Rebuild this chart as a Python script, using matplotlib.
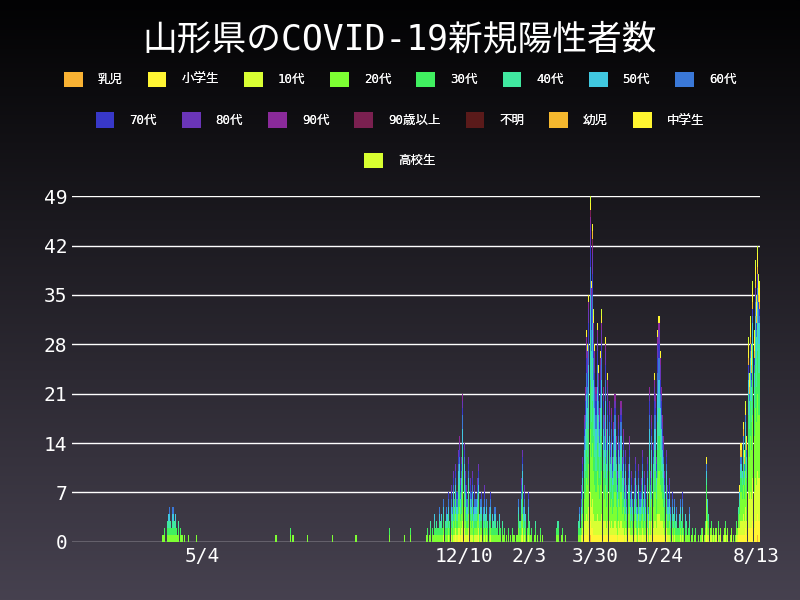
import numpy as np
import matplotlib
matplotlib.use("Agg")
import matplotlib.pyplot as plt
import matplotlib.dates as mdates
from matplotlib.patches import Patch
from matplotlib.colors import LinearSegmentedColormap
import datetime as dt

plt.rcParams['font.family'] = ['DejaVu Sans Mono', 'Noto Sans CJK JP']

categories = ['乳児','小学生','10代','20代','30代','40代','50代','60代','70代','80代','90代','90歳以上','不明','幼児','中学生','高校生']
colors = ['#f9b233','#fff533','#d9ff33','#7dff33','#40f060','#40e8a0','#40c8e0','#3a78d8',
          '#3838c8','#6a35b8','#8a2a9a','#7a2050','#5a1a1a','#f5b82e','#fff530','#d8ff30']

# (start date, daily totals)
seg_starts = ['2020-03-31','2020-07-04','2020-07-17','2020-07-31','2020-08-21','2020-09-10','2020-10-08',
              '2020-11-08','2021-01-24','2021-02-27','2021-03-16','2021-06-29','2021-07-26']
seg_totals = [
 [1,1,2,0,3,4,5,3,2,5,3,4,2,1,3,2,1,1,0,1,0,0,1,0,0,0,0,0,0,1,0],
 [1,1],
 [2,0,1],
 [1],
 [1],
 [1],
 [2,0,0,0,0,0,0,0,0,0,0,0,0,1,0,0,0,0,2],
 [1,2,0,1,3,2,1,4,2,3,2,5,3,4,2,6,3,5,4,7,3,8,5,10,6,11,7,13,15,9,12,21,14,10,8,6,12,9,7,10,
  5,8,6,9,11,4,6,7,5,8,4,6,3,5,7,2,4,3,5,2,3,1,4,2,3,1,2,0,1,2,0,1,0,2,1,0,1,0,1],
 [1,6,3,9,13,5,8,4,2,7,3,1,2,0,1,3,0,1,0,2,0,1,0,0,0,0,0,0,0,0,0,0,0,2],
 [3,0,0,1,2,0,1,0,0,0,0,0,0,0,0,0,0],
 [3,5,2,8,12,18,22,30,28,35,49,37,45,33,28,22,31,25,19,27,33,22,18,29,16,24,20,14,19,12,17,21,15,10,18,14,
  20,12,16,9,13,8,11,15,7,10,6,9,12,8,5,11,7,9,13,6,10,8,12,5,22,10,18,14,24,21,12,30,32,27,22,18,15,10,
  13,8,6,9,5,7,4,6,3,5,2,4,6,3,7,2,4,3,1,2,5,1,2,0,1,2,0,1,0,1,2],
 [2,1,3,12,6,4,2,3,1,2,1,2,0,3,1,2,0,1,2,3,1,2,0,1,2,0,1,0],
 [1,3,2,5,8,14,10,17,13,20,15,29,24,32,28,37,30,40,35,42,38,37],
]
mix_default = [0.01,0.04,0.08,0.18,0.14,0.13,0.12,0.09,0.07,0.06,0.03,0.01,0.0,0.01,0.02,0.01]
mix_wave5 = [0.01,0.08,0.15,0.25,0.15,0.10,0.08,0.04,0.02,0.01,0,0,0,0.03,0.05,0.03]

dates, totals, mixes = [], [], []
for s, vals in zip(seg_starts, seg_totals):
    d0 = dt.date.fromisoformat(s)
    for i, v in enumerate(vals):
        dates.append(d0 + dt.timedelta(days=i))
        totals.append(v)
        mixes.append(mix_wave5 if d0 >= dt.date(2021, 6, 29) else mix_default)

def split(total, mix):
    w = np.array(mix) / sum(mix) * total
    base = np.floor(w).astype(int)
    rem = total - base.sum()
    order = np.argsort(-(w - base))
    base[order[:rem]] += 1
    return base

stack = np.array([split(t, m) for t, m in zip(totals, mixes)]).T
xd = mdates.date2num(dates)

fig = plt.figure(figsize=(8, 6), dpi=100)
bg = fig.add_axes([0, 0, 1, 1], zorder=-10)
grad = np.linspace(0, 1, 256).reshape(-1, 1)
cmap = LinearSegmentedColormap.from_list('bg', ['#020203', '#46414f'])
bg.imshow(grad, aspect='auto', cmap=cmap, extent=[0, 1, 0, 1], origin='upper')
bg.axis('off')

ax = fig.add_axes([0.09, 0.097, 0.86, 0.576])
ax.set_facecolor('none')
bottom = np.zeros(len(xd))
for k in range(len(categories)):
    ax.bar(xd, stack[k], bottom=bottom, width=0.9, color=colors[k], linewidth=0)
    bottom += stack[k]

ax.set_ylim(0, 49)
ax.set_yticks(range(0, 50, 7))
ax.set_xlim(mdates.date2num(dt.date(2020, 1, 15)), mdates.date2num(dt.date(2021, 8, 16)))
tick_dates = [dt.date(2020,5,4), dt.date(2020,12,10), dt.date(2021,2,3), dt.date(2021,3,30), dt.date(2021,5,24), dt.date(2021,8,13)]
tick_labels = ['5/4','12/10','2/3','3/30','5/24','8/13']
ax.set_xticks(mdates.date2num(tick_dates))
ax.set_xticklabels(tick_labels)
ax.grid(axis='y', color='white', linewidth=1)
ax.set_axisbelow(True)
for sp in ax.spines.values():
    sp.set_visible(False)
ax.tick_params(colors='white', labelsize=14, length=0)

fig.text(0.5, 0.935, '山形県のCOVID-19新規陽性者数', color='white', fontsize=25, ha='center', va='center')

rows = [range(0, 8), range(8, 15), range(15, 16)]
row_y = [0.868, 0.800, 0.733]
for r, y in zip(rows, row_y):
    h = [Patch(facecolor=colors[i], edgecolor='none') for i in r]
    l = [categories[i] for i in r]
    leg = fig.legend(h, l, loc='center', bbox_to_anchor=(0.5, y), ncol=len(h), frameon=False,
                     fontsize=9, labelcolor='white', handlelength=1.5, handleheight=1.5,
                     columnspacing=2.0, handletextpad=1.2)
    fig.add_artist(leg)
fig.savefig('out.png', dpi=100)
